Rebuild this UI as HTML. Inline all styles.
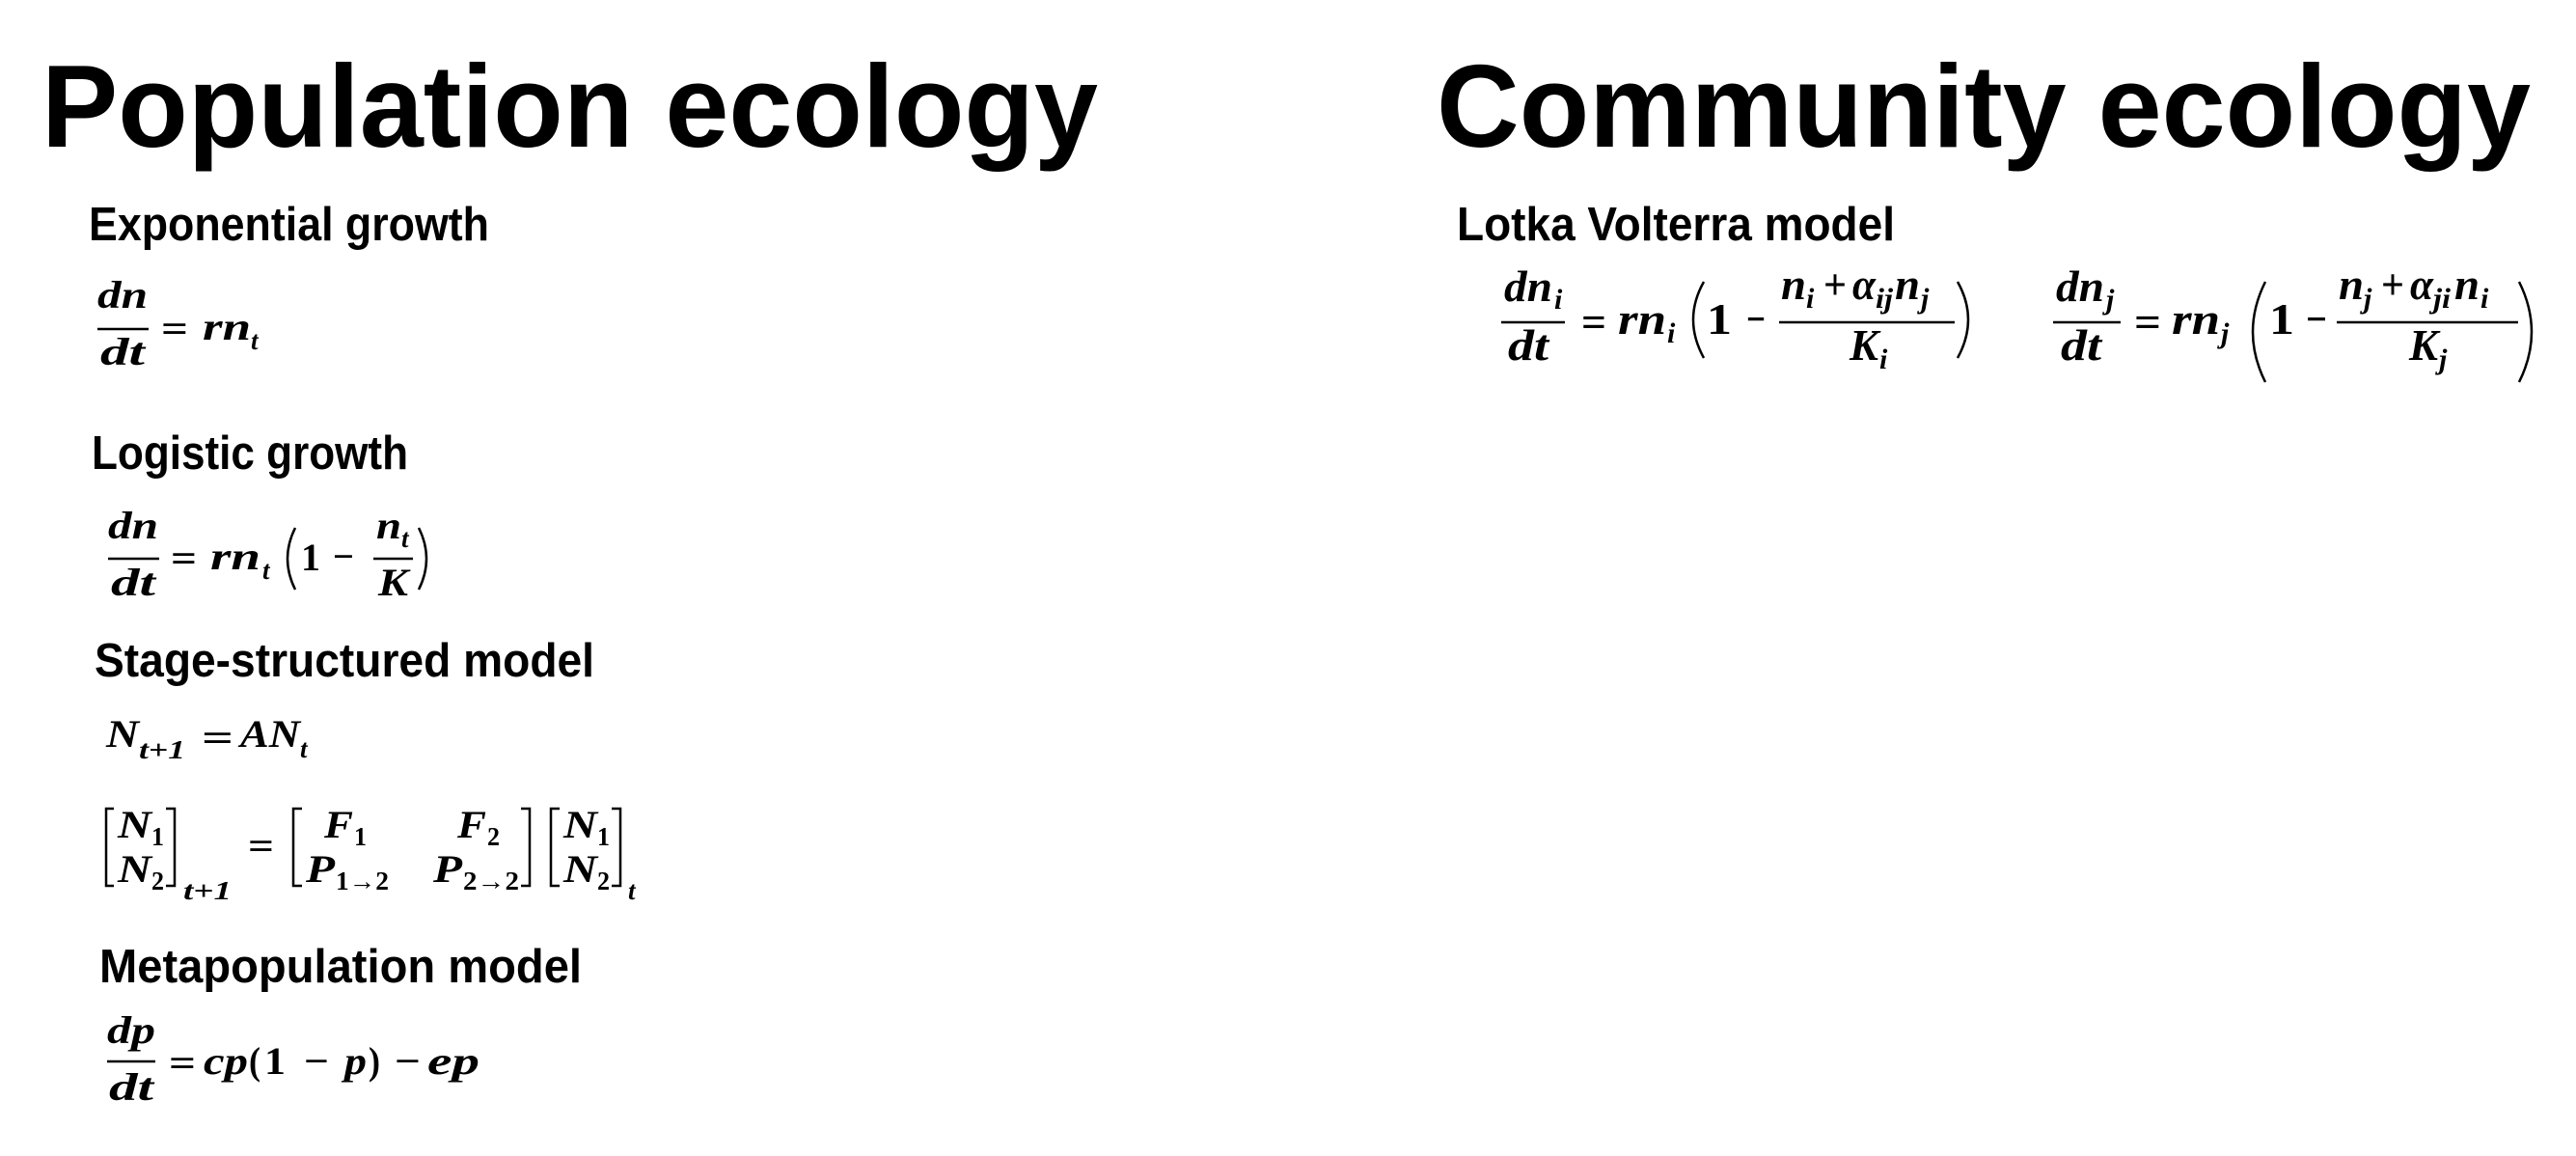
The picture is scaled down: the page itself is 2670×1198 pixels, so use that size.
<!DOCTYPE html>
<html><head><meta charset="utf-8"><style>
html,body{margin:0;padding:0;background:#fff;}
svg{display:block;}
.t{font-family:"Liberation Sans",sans-serif;font-weight:bold;}
.m{font-family:"Liberation Serif",serif;font-weight:bold;font-style:italic;font-size:40px;}
.u{font-family:"Liberation Serif",serif;font-weight:bold;font-size:40px;}
.s{font-family:"Liberation Serif",serif;font-weight:bold;font-style:italic;font-size:27px;}
.su{font-family:"Liberation Serif",serif;font-weight:bold;font-size:27px;}
.L{font-size:46px;}
.Ls{font-size:30px;}
</style></head><body>
<svg width="2670" height="1198" viewBox="0 0 2670 1198" xmlns="http://www.w3.org/2000/svg">
<rect width="2670" height="1198" fill="#fff"/>
<g stroke="#000" stroke-width="2.5" fill="none">
<line x1="101" y1="341" x2="154" y2="341"/>
<line x1="112" y1="579" x2="165" y2="579"/>
<line x1="387" y1="579" x2="428" y2="579"/>
<line x1="111" y1="1100" x2="161" y2="1100"/>
<line x1="1556" y1="334" x2="1622" y2="334"/>
<line x1="1844" y1="334" x2="2026" y2="334"/>
<line x1="2128" y1="334" x2="2198" y2="334"/>
<line x1="2422" y1="334" x2="2610" y2="334"/>
<path d="M306 547 Q290 579 306 611"/>
<path d="M434 547 Q450 579 434 611"/>
<path d="M1766 292 Q1744 331 1766 371"/>
<path d="M2029 292 Q2051 331 2029 371"/>
<path d="M2348 292 Q2322 344 2348 396"/>
<path d="M2611 292 Q2637 344 2611 396"/>
<path d="M118 838 H110 V918 H118"/>
<path d="M172 838 H181 V918 H172"/>
<path d="M313 838 H304 V918 H313"/>
<path d="M540 838 H549 V918 H540"/>
<path d="M580 838 H571 V918 H580"/>
<path d="M634 838 H643 V918 H634"/>
</g>

<text class="t" x="43" y="152" font-size="122" textLength="1095" lengthAdjust="spacingAndGlyphs">Population ecology</text>
<text class="t" x="1489" y="152" font-size="122" textLength="1134" lengthAdjust="spacingAndGlyphs">Community ecology</text>

<text class="t" x="92" y="249" font-size="49" textLength="415" lengthAdjust="spacingAndGlyphs">Exponential growth</text>
<text class="t" x="95" y="486" font-size="49" textLength="328" lengthAdjust="spacingAndGlyphs">Logistic growth</text>
<text class="t" x="98" y="701" font-size="49" textLength="518" lengthAdjust="spacingAndGlyphs">Stage-structured model</text>
<text class="t" x="103" y="1018" font-size="49" textLength="500" lengthAdjust="spacingAndGlyphs">Metapopulation model</text>
<text class="t" x="1510" y="249" font-size="49" textLength="454" lengthAdjust="spacingAndGlyphs">Lotka Volterra model</text>

<g>
<text class="m" x="101" y="319" textLength="52" lengthAdjust="spacingAndGlyphs">dn</text>
<text class="m" x="104" y="378" textLength="46" lengthAdjust="spacingAndGlyphs">dt</text>
<text class="u" x="167" y="354" textLength="28" lengthAdjust="spacingAndGlyphs">=</text>
<text class="m" x="210" y="352" textLength="50" lengthAdjust="spacingAndGlyphs">rn</text>
<text class="s" x="260" y="362">t</text>
</g>

<g>
<text class="m" x="112" y="558" textLength="52" lengthAdjust="spacingAndGlyphs">dn</text>
<text class="m" x="115" y="617" textLength="46" lengthAdjust="spacingAndGlyphs">dt</text>
<text class="u" x="177" y="592" textLength="27" lengthAdjust="spacingAndGlyphs">=</text>
<text class="m" x="218" y="590" textLength="52" lengthAdjust="spacingAndGlyphs">rn</text>
<text class="s" x="272" y="600">t</text>
<text class="u" x="312" y="591" textLength="20" lengthAdjust="spacingAndGlyphs">1</text>
<text class="u" x="345" y="590" textLength="22" lengthAdjust="spacingAndGlyphs">−</text>
<text class="m" x="390" y="558" textLength="26" lengthAdjust="spacingAndGlyphs">n</text>
<text class="s" x="416" y="567">t</text>
<text class="m" x="392" y="617" textLength="31" lengthAdjust="spacingAndGlyphs">K</text>
</g>

<g>
<text class="m" x="110" y="774" textLength="34" lengthAdjust="spacingAndGlyphs">N</text>
<text class="s" x="144" y="786" textLength="48" lengthAdjust="spacingAndGlyphs">t+1</text>
<text class="u" x="209" y="778" textLength="33" lengthAdjust="spacingAndGlyphs">=</text>
<text class="m" x="249" y="774" textLength="62" lengthAdjust="spacingAndGlyphs">AN</text>
<text class="s" x="311" y="785">t</text>
</g>

<g>
<text class="m" x="122" y="868" textLength="35" lengthAdjust="spacingAndGlyphs">N</text>
<text class="su" x="157" y="876" textLength="13" lengthAdjust="spacingAndGlyphs">1</text>
<text class="m" x="122" y="914" textLength="35" lengthAdjust="spacingAndGlyphs">N</text>
<text class="su" x="157" y="922" textLength="13" lengthAdjust="spacingAndGlyphs">2</text>
<text class="s" x="190" y="932" textLength="50" lengthAdjust="spacingAndGlyphs">t+1</text>
<text class="u" x="257" y="890" textLength="27" lengthAdjust="spacingAndGlyphs">=</text>
<text class="m" x="336" y="868" textLength="30" lengthAdjust="spacingAndGlyphs">F</text>
<text class="su" x="367" y="876" textLength="13" lengthAdjust="spacingAndGlyphs">1</text>
<text class="m" x="474" y="868" textLength="30" lengthAdjust="spacingAndGlyphs">F</text>
<text class="su" x="505" y="876" textLength="13" lengthAdjust="spacingAndGlyphs">2</text>
<text class="m" x="317" y="914" textLength="30" lengthAdjust="spacingAndGlyphs">P</text>
<text class="su" x="348" y="922" textLength="55" lengthAdjust="spacingAndGlyphs">1→2</text>
<text class="m" x="449" y="914" textLength="30" lengthAdjust="spacingAndGlyphs">P</text>
<text class="su" x="480" y="922" textLength="58" lengthAdjust="spacingAndGlyphs">2→2</text>
<text class="m" x="584" y="868" textLength="35" lengthAdjust="spacingAndGlyphs">N</text>
<text class="su" x="619" y="876" textLength="13" lengthAdjust="spacingAndGlyphs">1</text>
<text class="m" x="584" y="914" textLength="35" lengthAdjust="spacingAndGlyphs">N</text>
<text class="su" x="619" y="922" textLength="13" lengthAdjust="spacingAndGlyphs">2</text>
<text class="s" x="651" y="932">t</text>
</g>

<g>
<text class="m" x="111" y="1081" textLength="50" lengthAdjust="spacingAndGlyphs">dp</text>
<text class="m" x="113" y="1140" textLength="46" lengthAdjust="spacingAndGlyphs">dt</text>
<text class="u" x="175" y="1115" textLength="28" lengthAdjust="spacingAndGlyphs">=</text>
<text class="m" x="211" y="1113" textLength="46" lengthAdjust="spacingAndGlyphs">cp</text>
<text class="u" x="258" y="1113" textLength="12" lengthAdjust="spacingAndGlyphs">(</text>
<text class="u" x="274" y="1113" textLength="22" lengthAdjust="spacingAndGlyphs">1</text>
<text class="u" x="315" y="1113" textLength="26" lengthAdjust="spacingAndGlyphs">−</text>
<text class="m" x="357" y="1113" textLength="23" lengthAdjust="spacingAndGlyphs">p</text>
<text class="u" x="382" y="1113" textLength="12" lengthAdjust="spacingAndGlyphs">)</text>
<text class="u" x="409" y="1113" textLength="27" lengthAdjust="spacingAndGlyphs">−</text>
<text class="m" x="443" y="1113" textLength="54" lengthAdjust="spacingAndGlyphs">ep</text>
</g>

<g>
<text class="m L" x="1559" y="312" textLength="50" lengthAdjust="spacingAndGlyphs">dn</text>
<text class="s Ls" x="1611" y="320">i</text>
<text class="m L" x="1563" y="373" textLength="42" lengthAdjust="spacingAndGlyphs">dt</text>
<text class="u L" x="1639" y="349" textLength="26" lengthAdjust="spacingAndGlyphs">=</text>
<text class="m L" x="1677" y="346" textLength="50" lengthAdjust="spacingAndGlyphs">rn</text>
<text class="s Ls" x="1728" y="355">i</text>
<text class="u L" x="1769" y="346" textLength="26" lengthAdjust="spacingAndGlyphs">1</text>
<text class="u L" x="1810" y="346" textLength="20" lengthAdjust="spacingAndGlyphs">−</text>
<text class="m L" x="1846" y="310" textLength="26" lengthAdjust="spacingAndGlyphs">n</text>
<text class="s Ls" x="1872" y="319">i</text>
<text class="u L" x="1890" y="310" textLength="24" lengthAdjust="spacingAndGlyphs">+</text>
<text class="m L" x="1920" y="310" textLength="24" lengthAdjust="spacingAndGlyphs">α</text>
<text class="s Ls" x="1944" y="319" textLength="18" lengthAdjust="spacingAndGlyphs">ij</text>
<text class="m L" x="1964" y="310" textLength="26" lengthAdjust="spacingAndGlyphs">n</text>
<text class="s Ls" x="1991" y="319">j</text>
<text class="m L" x="1917" y="373" textLength="30" lengthAdjust="spacingAndGlyphs">K</text>
<text class="s Ls" x="1948" y="382">i</text>
</g>

<g>
<text class="m L" x="2131" y="312" textLength="50" lengthAdjust="spacingAndGlyphs">dn</text>
<text class="s Ls" x="2183" y="320">j</text>
<text class="m L" x="2136" y="373" textLength="42" lengthAdjust="spacingAndGlyphs">dt</text>
<text class="u L" x="2212" y="349" textLength="28" lengthAdjust="spacingAndGlyphs">=</text>
<text class="m L" x="2251" y="346" textLength="50" lengthAdjust="spacingAndGlyphs">rn</text>
<text class="s Ls" x="2302" y="355">j</text>
<text class="u L" x="2352" y="346" textLength="26" lengthAdjust="spacingAndGlyphs">1</text>
<text class="u L" x="2390" y="346" textLength="22" lengthAdjust="spacingAndGlyphs">−</text>
<text class="m L" x="2424" y="310" textLength="26" lengthAdjust="spacingAndGlyphs">n</text>
<text class="s Ls" x="2450" y="319">j</text>
<text class="u L" x="2468" y="310" textLength="24" lengthAdjust="spacingAndGlyphs">+</text>
<text class="m L" x="2498" y="310" textLength="24" lengthAdjust="spacingAndGlyphs">α</text>
<text class="s Ls" x="2522" y="319" textLength="18" lengthAdjust="spacingAndGlyphs">ji</text>
<text class="m L" x="2544" y="310" textLength="26" lengthAdjust="spacingAndGlyphs">n</text>
<text class="s Ls" x="2571" y="319">i</text>
<text class="m L" x="2497" y="373" textLength="30" lengthAdjust="spacingAndGlyphs">K</text>
<text class="s Ls" x="2528" y="382">j</text>
</g>
</svg>
</body></html>
